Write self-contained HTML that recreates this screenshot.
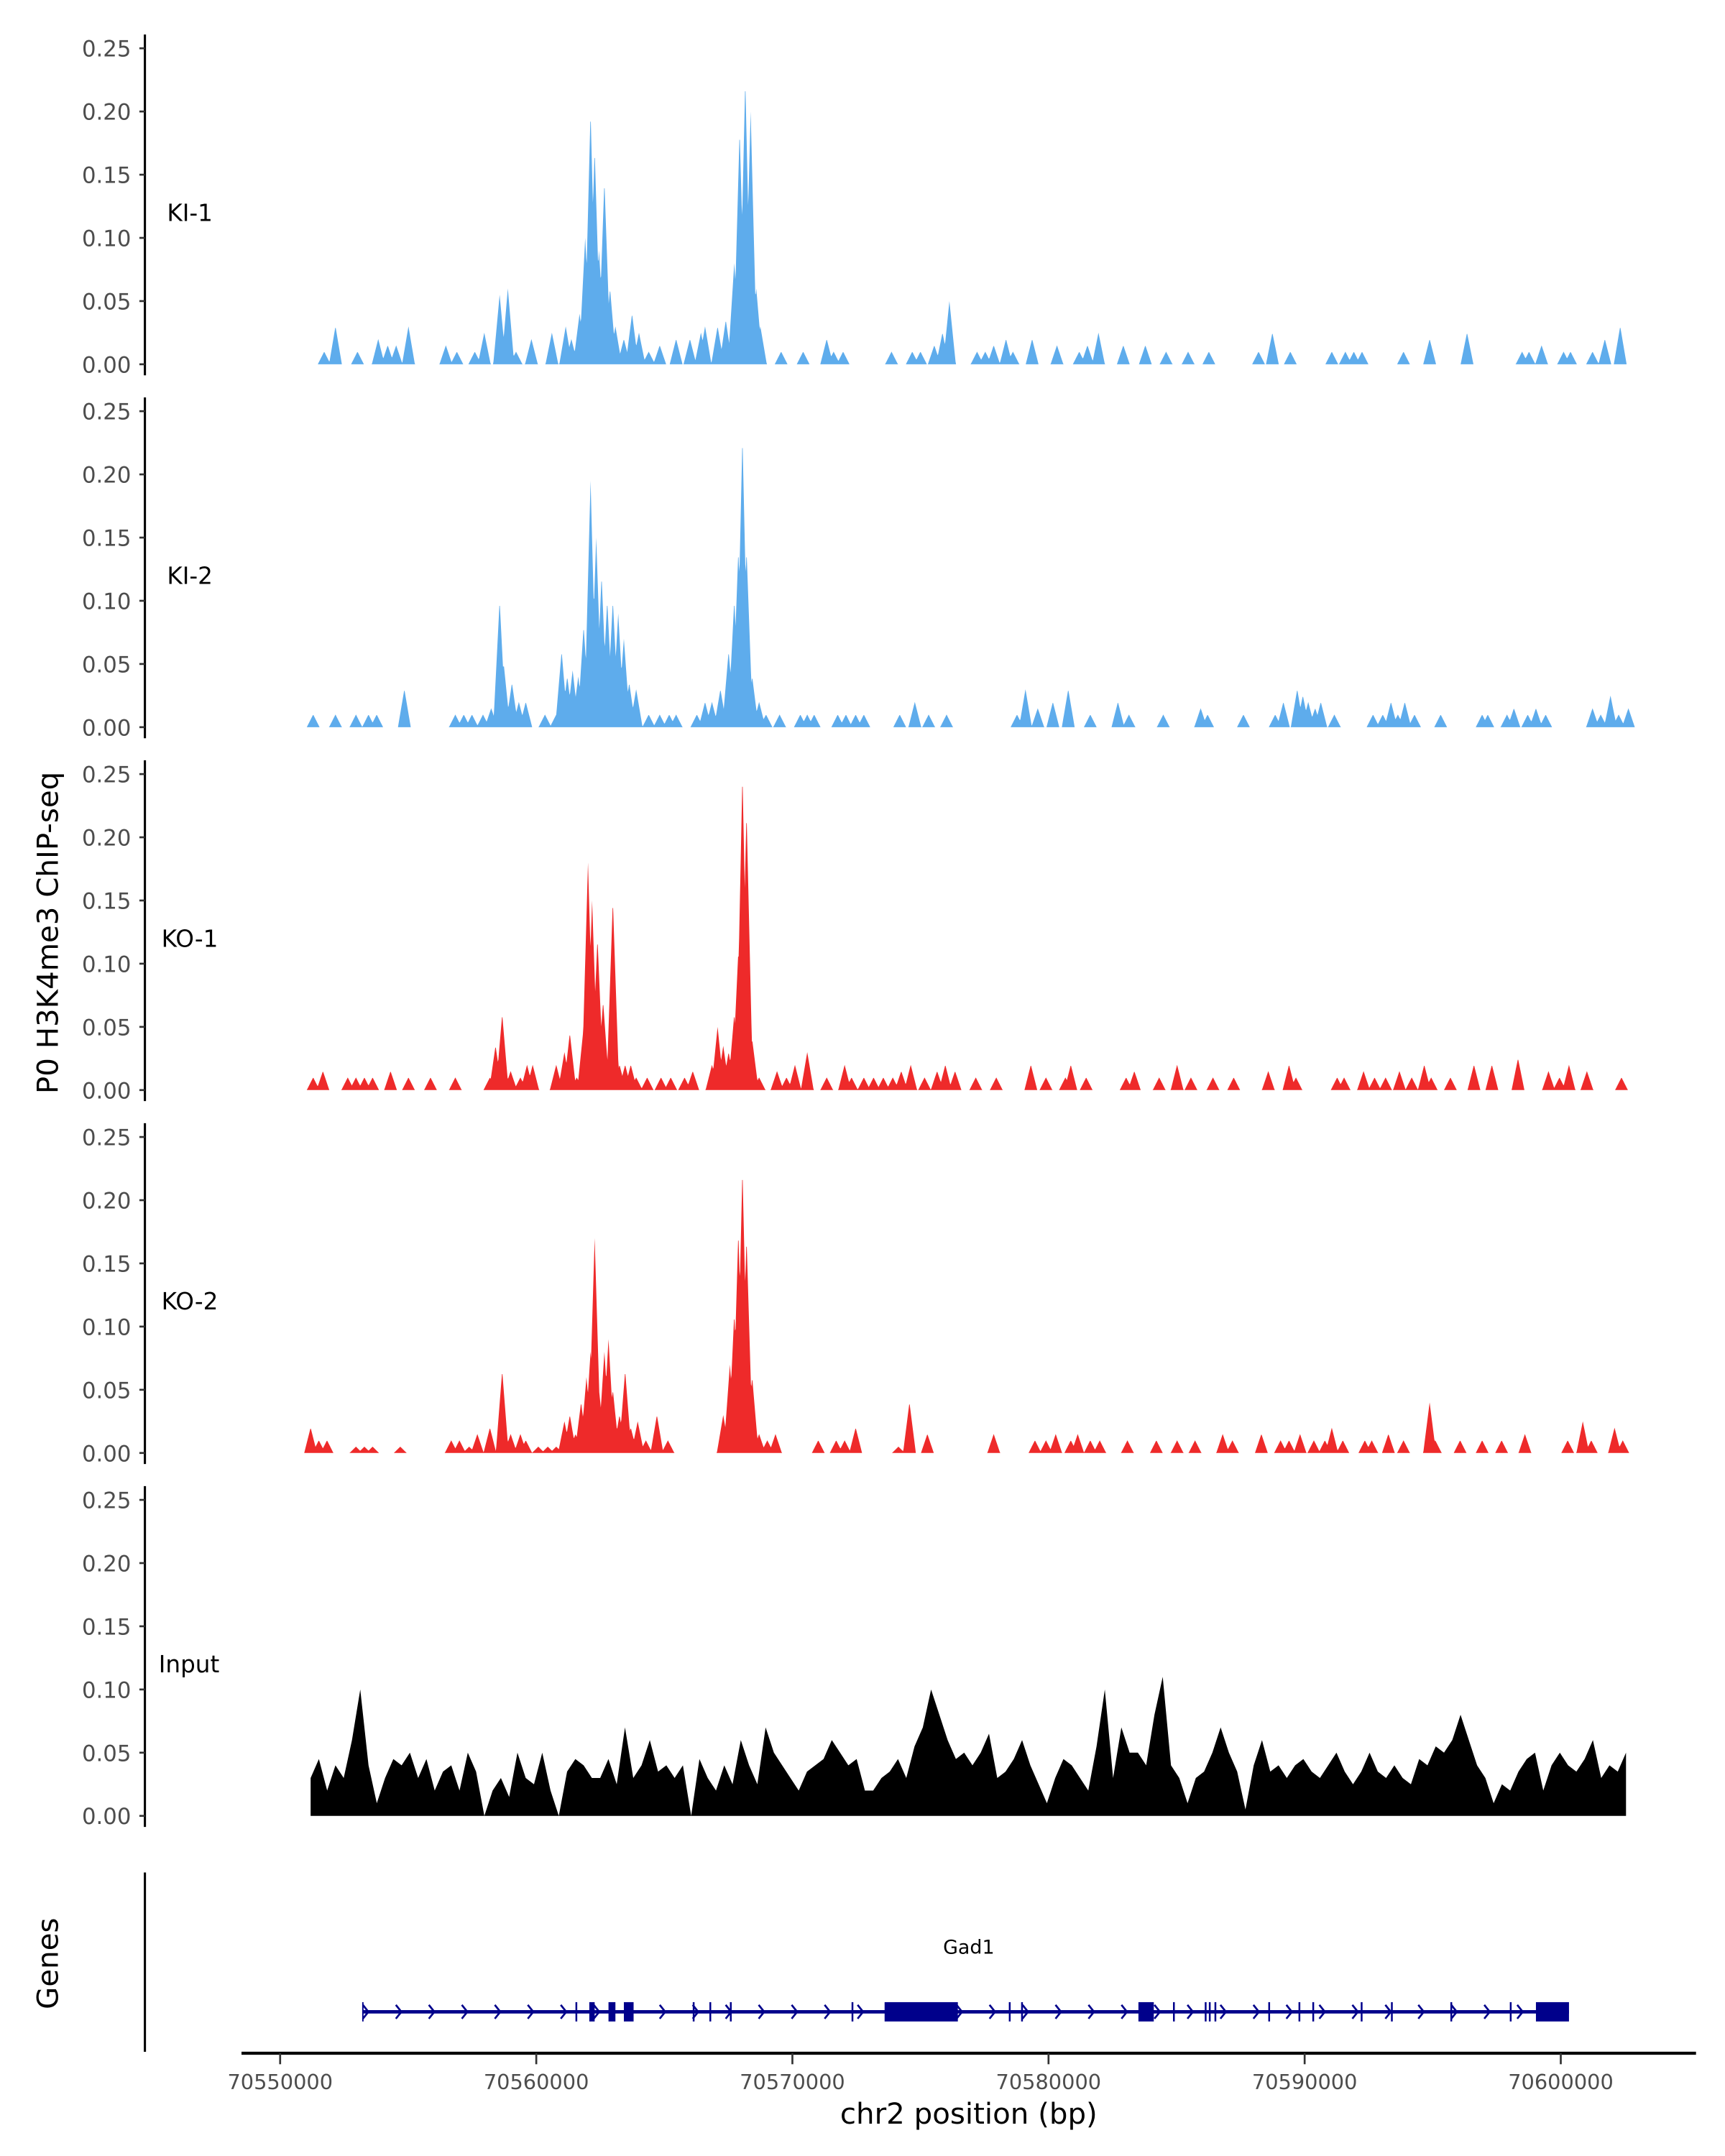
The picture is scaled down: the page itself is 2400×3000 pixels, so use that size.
<!DOCTYPE html>
<html><head><meta charset="utf-8"><style>
html,body{margin:0;padding:0;background:#fff;}
svg{display:block;font-family:"DejaVu Sans","Liberation Sans",sans-serif;}
</style></head><body>
<svg id="chart" xmlns="http://www.w3.org/2000/svg" width="2400" height="3000" viewBox="0 0 1250 1562.5" preserveAspectRatio="none">
<g id="tracks"></g>
<g id="genes"></g>
<g id="xaxis"></g>
<text x="0" y="0" transform="translate(42,676) rotate(-90)" text-anchor="middle" font-size="21" fill="#000">P0 H3K4me3 ChIP-seq</text>
<text x="0" y="0" transform="translate(42,1423) rotate(-90)" text-anchor="middle" font-size="21" fill="#000">Genes</text>
<text x="702" y="1539" text-anchor="middle" font-size="21" fill="#000">chr2 position (bp)</text>
</svg>
<script>
// ---- data (positions in kb offset from 70,550,000) ----
const trackNames = ["KI-1","KI-2","KO-1","KO-2","Input"];
const yTicks = [0, 0.05, 0.10, 0.15, 0.20, 0.25];
const yTickLabels = ["0.00","0.05","0.10","0.15","0.20","0.25"];
const xTicks = [70550000,70560000,70570000,70580000,70590000,70600000];
const xTickLabels = ["70550000","70560000","70570000","70580000","70590000","70600000"];

const ki1Pos = [1.72,2.16,3.02,3.83,4.20,4.53,5.01,6.47,6.90,7.60,7.97,8.57,8.89,9.21,9.81,10.61,11.15,11.37,11.69,11.91,12.12,12.28,12.45,12.66,12.88,13.09,13.42,13.74,14.01,14.39,14.82,15.46,16.00,16.43,16.59,17.08,17.40,17.73,17.94,18.16,18.37,18.59,18.75,19.56,20.42,21.34,21.61,21.98,23.87,24.68,25.00,25.54,25.86,26.13,27.21,27.53,27.86,28.34,28.61,29.36,30.33,31.20,31.52,31.95,32.92,33.78,34.59,35.45,36.26,38.20,38.74,39.44,41.06,41.59,41.92,42.24,43.86,44.88,46.34,48.49,48.76,49.25,50.11,50.38,51.24,51.72,52.32];
const ki1Val = [.01,.03,.01,.02,.015,.015,.03,.015,.01,.01,.025,.055,.06,.01,.02,.025,.03,.02,.04,.10,.20,.17,.09,.145,.06,.03,.02,.04,.025,.01,.015,.02,.02,.025,.03,.03,.035,.08,.185,.225,.20,.06,.03,.01,.01,.02,.01,.01,.01,.01,.01,.015,.025,.05,.01,.01,.015,.02,.01,.02,.015,.01,.015,.025,.015,.015,.01,.01,.01,.01,.025,.01,.01,.01,.01,.01,.01,.02,.025,.01,.01,.015,.01,.01,.01,.02,.03];

const ki2Pos = [1.29,2.16,2.96,3.45,3.77,4.85,6.84,7.17,7.49,7.92,8.24,8.57,8.73,9.05,9.32,9.59,10.34,10.78,10.99,11.21,11.42,11.64,11.85,12.12,12.34,12.55,12.77,12.99,13.20,13.42,13.63,13.90,14.39,14.82,15.19,15.46,16.27,16.59,16.86,17.19,17.51,17.73,17.89,18.05,18.21,18.43,18.70,18.97,19.50,20.31,20.58,20.85,21.77,22.09,22.47,22.79,24.19,24.78,25.32,26.02,28.77,29.10,29.58,30.17,30.77,31.63,32.71,33.14,34.48,35.94,36.21,37.61,38.85,39.17,39.71,39.93,40.14,40.41,40.63,41.16,42.67,43.05,43.37,43.64,43.91,44.29,45.31,46.93,47.15,47.90,48.17,48.71,49.03,49.41,51.24,51.56,51.94,52.26,52.64];
const ki2Val = [.01,.01,.01,.01,.01,.03,.01,.01,.01,.01,.015,.10,.05,.035,.02,.02,.01,.01,.06,.04,.045,.04,.08,.195,.15,.12,.10,.10,.09,.07,.035,.03,.01,.01,.01,.01,.01,.02,.02,.03,.06,.10,.14,.23,.14,.04,.02,.01,.01,.01,.01,.01,.01,.01,.01,.01,.01,.02,.01,.01,.01,.03,.015,.02,.03,.01,.02,.01,.01,.015,.01,.01,.01,.02,.03,.025,.02,.015,.02,.01,.01,.01,.02,.01,.02,.01,.01,.01,.01,.01,.015,.01,.015,.01,.015,.01,.025,.01,.015];

const ko1Pos = [1.29,1.67,2.64,2.96,3.29,3.61,4.31,5.01,5.87,6.84,8.19,8.41,8.67,9.00,9.38,9.64,9.86,10.78,11.10,11.31,11.58,11.85,12.02,12.18,12.39,12.61,12.77,12.99,13.25,13.47,13.69,13.90,14.33,14.87,15.25,15.79,16.11,16.86,17.08,17.30,17.51,17.73,17.89,18.05,18.21,18.43,18.70,19.40,19.77,20.10,20.58,21.34,22.04,22.31,22.79,23.17,23.55,23.92,24.25,24.62,25.16,25.65,25.97,26.35,27.16,27.96,29.31,29.90,30.66,30.87,31.47,33.03,33.35,34.32,35.02,35.56,36.42,37.23,38.58,39.39,39.66,41.27,41.54,42.30,42.73,43.16,43.70,44.18,44.67,44.94,45.69,46.61,47.31,48.33,49.52,49.95,50.32,51.02,52.37];
const ko1Val = [.01,.015,.01,.01,.01,.01,.015,.01,.01,.01,.01,.035,.06,.015,.01,.02,.02,.02,.03,.045,.01,.05,.18,.15,.12,.07,.02,.15,.02,.02,.02,.01,.01,.01,.01,.01,.015,.02,.05,.035,.03,.06,.11,.25,.22,.04,.01,.015,.01,.02,.03,.01,.02,.01,.01,.01,.01,.01,.015,.02,.01,.015,.02,.015,.01,.01,.02,.01,.01,.02,.01,.01,.015,.01,.02,.01,.01,.01,.015,.02,.01,.01,.01,.015,.01,.01,.015,.01,.02,.01,.01,.02,.02,.025,.015,.01,.02,.015,.01];

const ko2Pos = [1.19,1.51,1.83,2.96,3.29,3.61,4.69,6.68,7.00,7.38,7.70,8.19,8.67,9.00,9.38,9.59,10.08,10.45,10.78,11.10,11.31,11.53,11.75,11.96,12.12,12.28,12.45,12.66,12.82,12.99,13.25,13.47,13.69,13.96,14.28,14.71,15.14,17.30,17.56,17.73,17.89,18.05,18.21,18.43,18.70,19.02,19.34,21.01,21.71,22.04,22.47,24.14,24.57,25.27,27.86,29.47,29.90,30.28,30.87,31.14,31.63,32.00,33.08,34.21,35.02,35.72,36.80,37.18,38.31,39.06,39.39,39.82,40.36,40.79,41.06,41.49,42.35,42.62,43.27,43.86,44.88,45.10,46.07,46.93,47.69,48.60,50.27,50.86,51.19,52.10,52.42];
const ko2Val = [.02,.01,.01,.005,.005,.005,.005,.01,.01,.005,.015,.02,.065,.015,.015,.01,.005,.005,.005,.025,.03,.015,.04,.06,.08,.17,.05,.08,.09,.05,.03,.065,.02,.025,.01,.03,.01,.03,.07,.11,.175,.225,.17,.06,.015,.01,.015,.01,.01,.01,.02,.005,.04,.015,.015,.01,.01,.015,.01,.015,.01,.01,.01,.01,.01,.01,.015,.01,.015,.01,.01,.015,.01,.01,.02,.01,.01,.01,.015,.01,.04,.01,.01,.01,.01,.015,.01,.025,.01,.02,.01];

const inputStartKb = 1.19;
const inputStepKb = 0.323;
const inputVal = [.03,.045,.02,.04,.03,.06,.10,.04,.01,.03,.045,.04,.05,.03,.045,.02,.035,.04,.02,.05,.035,0,.02,.03,.015,.05,.03,.025,.05,.02,0,.035,.045,.04,.03,.03,.045,.025,.07,.03,.04,.06,.035,.04,.03,.04,0,.045,.03,.02,.04,.025,.06,.04,.025,.07,.05,.04,.03,.02,.035,.04,.045,.06,.05,.04,.045,.02,.02,.03,.035,.045,.03,.055,.07,.10,.08,.06,.045,.05,.04,.05,.065,.03,.035,.045,.06,.04,.025,.01,.03,.045,.04,.03,.02,.055,.10,.03,.07,.05,.05,.04,.08,.11,.04,.03,.01,.03,.035,.05,.07,.05,.035,.005,.04,.06,.035,.04,.03,.04,.045,.035,.03,.04,.05,.035,.025,.035,.05,.035,.03,.04,.03,.025,.045,.04,.055,.05,.06,.08,.06,.04,.03,.01,.025,.02,.035,.045,.05,.02,.04,.05,.04,.035,.045,.06,.03,.04,.035,.05];

const geneStartKb = 3.23, geneEndKb = 50.32;
const exonStartKb = [12.07,12.82,13.42,23.60,33.51,49.03,11.53,16.11,16.76,17.56,22.31,28.45,28.93,34.86,36.10,36.26,36.48,38.58,39.76,40.30,42.19,43.37,45.69,48.01];
const exonEndKb   = [12.28,13.09,13.80,26.46,34.11,50.32,11.60,16.18,16.83,17.63,22.38,28.52,29.00,34.93,36.17,36.33,36.55,38.65,39.83,40.37,42.26,43.44,45.76,48.08];

// ---- scales ----
const X0 = 203, PX_PER_KB = 18.56;
function xScale(kb){ return X0 + kb*PX_PER_KB; }
function xScaleBp(bp){ return xScale((bp-70550000)/1000); }
const PANEL_BASE0 = 264, PANEL_STEP = 263, PX_PER_UNIT = 916;
function yScale(i,v){ return PANEL_BASE0 + i*PANEL_STEP - v*PX_PER_UNIT; }

const NS = "http://www.w3.org/2000/svg";
function mk(tag, attrs, parent){ const e=document.createElementNS(NS,tag); for(const k in attrs) e.setAttribute(k,attrs[k]); parent.appendChild(e); return e; }

const tracksG = document.getElementById('tracks');
const colors = ["#5eacec","#5eacec","#ee2a2a","#ee2a2a","#000000"];
const peakPos = [ki1Pos,ki2Pos,ko1Pos,ko2Pos];
const peakVal = [ki1Val,ki2Val,ko1Val,ko2Val];

for(let i=0;i<5;i++){
  const g = mk('g',{},tracksG);
  
  
  const base = yScale(i,0);
  const ax = mk('line',{x1:105,x2:105,y1:yScale(i,0.25)-10,y2:base+8,stroke:"#000","stroke-width":1.6},g);
  
  
  yTicks.forEach((t,k)=>{
    const y=yScale(i,t);
    const tk = mk('line',{x1:101,x2:105,y1:y,y2:y,stroke:"#333","stroke-width":1.4},g);
    
    
    const tl = mk('text',{x:95,y:y+6,"text-anchor":"end","font-size":16,fill:"#4d4d4d"},g);
    
    
    tl.textContent = yTickLabels[k];
  });
  const lab = mk('text',{x:(i===4?115:(i<2?121:117)),y:yScale(i,0.12)+6,"font-size":17,fill:"#000"},g);
  
  
  lab.textContent = trackNames[i];

  let d = "";
  if(i<4){
    const P=peakPos[i], V=peakVal[i], w=0.25;
    const start=P[0]-w, end=P[P.length-1]+w;
    d = "M"+xScale(start).toFixed(2)+","+base;
    for(let x=start;x<=end+1e-9;x+=0.02){
      let v=0;
      for(let k=0;k<P.length;k++){ const q=V[k]*(1-Math.abs(x-P[k])/w); if(q>v) v=q; }
      d += "L"+xScale(x).toFixed(2)+","+yScale(i,v).toFixed(2);
    }
    d += "L"+xScale(end).toFixed(2)+","+base+"Z";
  } else {
    const s = inputStartKb, e = inputStartKb + inputStepKb*(inputVal.length-1);
    d = "M"+xScale(s).toFixed(2)+","+base;
    inputVal.forEach((v,k)=>{ d += "L"+xScale(s+k*inputStepKb).toFixed(2)+","+yScale(i,v).toFixed(2); });
    d += "L"+xScale(e).toFixed(2)+","+base+"Z";
  }
  const area = mk('path',{d:d,fill:colors[i]},g);
  
  
}

// ---- gene track ----
const gg = document.getElementById('genes');
const gax = mk('line',{x1:105,x2:105,y1:1357,y2:1487,stroke:"#000","stroke-width":1.6},gg);


const GY = 1458;
const gl = mk('line',{x1:xScale(geneStartKb),x2:xScale(geneEndKb),y1:GY,y2:GY,stroke:"#00008b","stroke-width":2.5},gg);


for(let x=xScale(geneStartKb)+2; x<xScale(geneEndKb)-4; x+=23.9){
  const ch = mk('path',{d:`M${x-2},${GY-5}L${x+2},${GY}L${x-2},${GY+5}`,fill:"none",stroke:"#00008b","stroke-width":1.4},gg);
  
  
}
const gs = mk('line',{x1:xScale(geneStartKb),x2:xScale(geneStartKb),y1:GY-7,y2:GY+7,stroke:"#00008b","stroke-width":1},gg);


exonStartKb.forEach((s,k)=>{
  const x1=xScale(s), x2=xScale(exonEndKb[k]);
  const r = mk('rect',{x:x1,y:GY-7,width:Math.max(1,x2-x1),height:14,fill:"#00008b"},gg);
  
  
});
const gname = mk('text',{x:702,y:1416,"text-anchor":"middle","font-size":14,fill:"#000"},gg);


gname.textContent = "Gad1";

// ---- x axis ----
const xg = document.getElementById('xaxis');
const xl = mk('line',{x1:175,x2:1229,y1:1488,y2:1488,stroke:"#000","stroke-width":2.2},xg);


xTicks.forEach((t,k)=>{
  const x=xScaleBp(t);
  const tk = mk('line',{x1:x,x2:x,y1:1488,y2:1496,stroke:"#333","stroke-width":1.4},xg);
  
  
  const tl = mk('text',{x:x,y:1514,"text-anchor":"middle","font-size":15,fill:"#4d4d4d"},xg);
  
  
  tl.textContent = xTickLabels[k];
});
</script>
</body></html>
